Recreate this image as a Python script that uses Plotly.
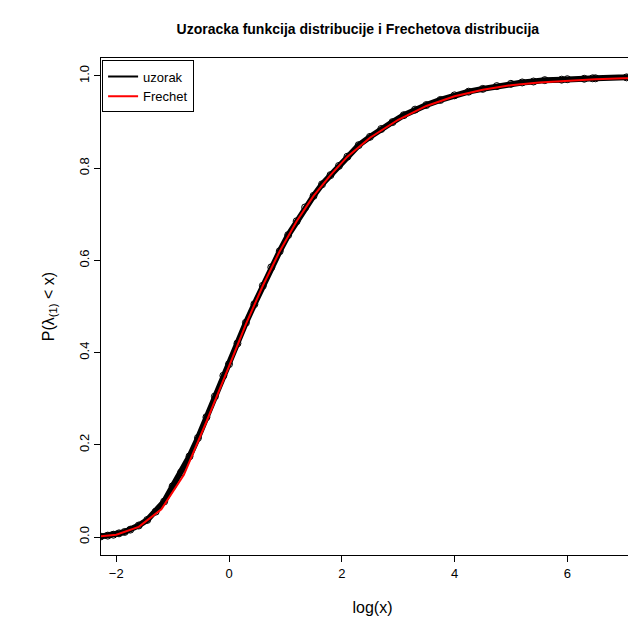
import plotly.graph_objects as go

sample_x = [-2.28, -2.15, -2.05, -1.95, -1.85, -1.75, -1.6, -1.45, -1.3, -1.15, -1.0, -0.85,
            -0.7, -0.55, -0.4, -0.25, -0.1, 0.0, 0.15, 0.3, 0.45, 0.6, 0.75, 0.9, 1.05,
            1.2, 1.35, 1.5, 1.65, 1.8, 1.95, 2.1, 2.3, 2.5, 2.7, 2.9, 3.1, 3.3, 3.5,
            3.75, 4.0, 4.25, 4.5, 4.75, 5.0, 5.2, 5.4, 5.6, 5.9, 6.0, 6.3, 6.45, 6.5, 7.05, 7.15]
sample_y = [0.001, 0.003, 0.005, 0.008, 0.011, 0.016, 0.025, 0.037, 0.055, 0.077, 0.11, 0.14,
            0.175, 0.215, 0.26, 0.305, 0.35, 0.375, 0.42, 0.465, 0.505, 0.545, 0.585, 0.62, 0.655,
            0.685, 0.715, 0.74, 0.765, 0.785, 0.805, 0.825, 0.85, 0.868, 0.885, 0.9, 0.915, 0.927, 0.937,
            0.948, 0.958, 0.966, 0.972, 0.978, 0.983, 0.986, 0.988, 0.991, 0.992, 0.993, 0.994, 0.995, 0.995, 0.997, 0.998]

# fitted Frechet CDF
frechet_x = [-2.4, -2.0, -1.6, -1.2, -0.8, -0.4, 0.0, 0.3, 0.6, 0.9, 1.2, 1.5, 1.8, 2.1, 2.5,
             3.0, 3.5, 4.0, 4.5, 5.0, 5.5, 6.0, 6.5, 7.0, 7.4]
frechet_y = [0.0, 0.005, 0.022, 0.06, 0.135, 0.25, 0.37, 0.462, 0.545, 0.62, 0.685, 0.74, 0.785, 0.825, 0.866,
             0.905, 0.935, 0.956, 0.97, 0.98, 0.986, 0.99, 0.993, 0.995, 0.996]

fig = go.Figure()
fig.add_trace(go.Scatter(x=sample_x, y=sample_y, mode="lines", line=dict(color="black", width=6),
                         showlegend=False))
fig.add_trace(go.Scatter(x=sample_x, y=sample_y, mode="markers", showlegend=False,
                         marker=dict(symbol="circle-open", color="black", size=7)))
fig.add_trace(go.Scatter(x=frechet_x, y=frechet_y, mode="lines", line=dict(color="red", width=2),
                         showlegend=False))
# legend entries
fig.add_trace(go.Scatter(x=[None], y=[None], mode="lines", line=dict(color="black", width=2), name="uzorak"))
fig.add_trace(go.Scatter(x=[None], y=[None], mode="lines", line=dict(color="red", width=2), name="Frechet"))

ax = dict(showgrid=False, zeroline=False, showline=True, linecolor="black", mirror=True,
          ticks="outside", ticklen=6, tickcolor="black")
fig.update_layout(
    width=636, height=629, plot_bgcolor="white", paper_bgcolor="white",
    font=dict(family="Liberation Sans, Arial", size=13, color="black"),
    margin=dict(l=93, r=0, t=50, b=82),
    title=dict(text="<b>Uzoracka funkcija distribucije i Frechetova distribucija</b>",
               x=0.55, xanchor="center", y=0.975, font=dict(size=14)),
    xaxis=dict(ax, range=[-2.27, 7.36], tickvals=[-2, 0, 2, 4, 6], ticktext=["\u22122", "0", "2", "4", "6"],
               title=dict(text="log(x)", standoff=22)),
    yaxis=dict(ax, range=[-0.039, 1.039], tickvals=[0, 0.2, 0.4, 0.6, 0.8, 1.0],
               ticktext=["0.0", "0.2", "0.4", "0.6", "0.8", "1.0"], tickangle=-90,
               title=dict(text="P(λ<sub>(1)</sub> < x)", standoff=18)),
    legend=dict(x=0.002, y=0.995, xanchor="left", yanchor="top", bordercolor="black", borderwidth=1,
                bgcolor="white", font=dict(size=13), tracegroupgap=0),
)
fig.write_html("out.html")
